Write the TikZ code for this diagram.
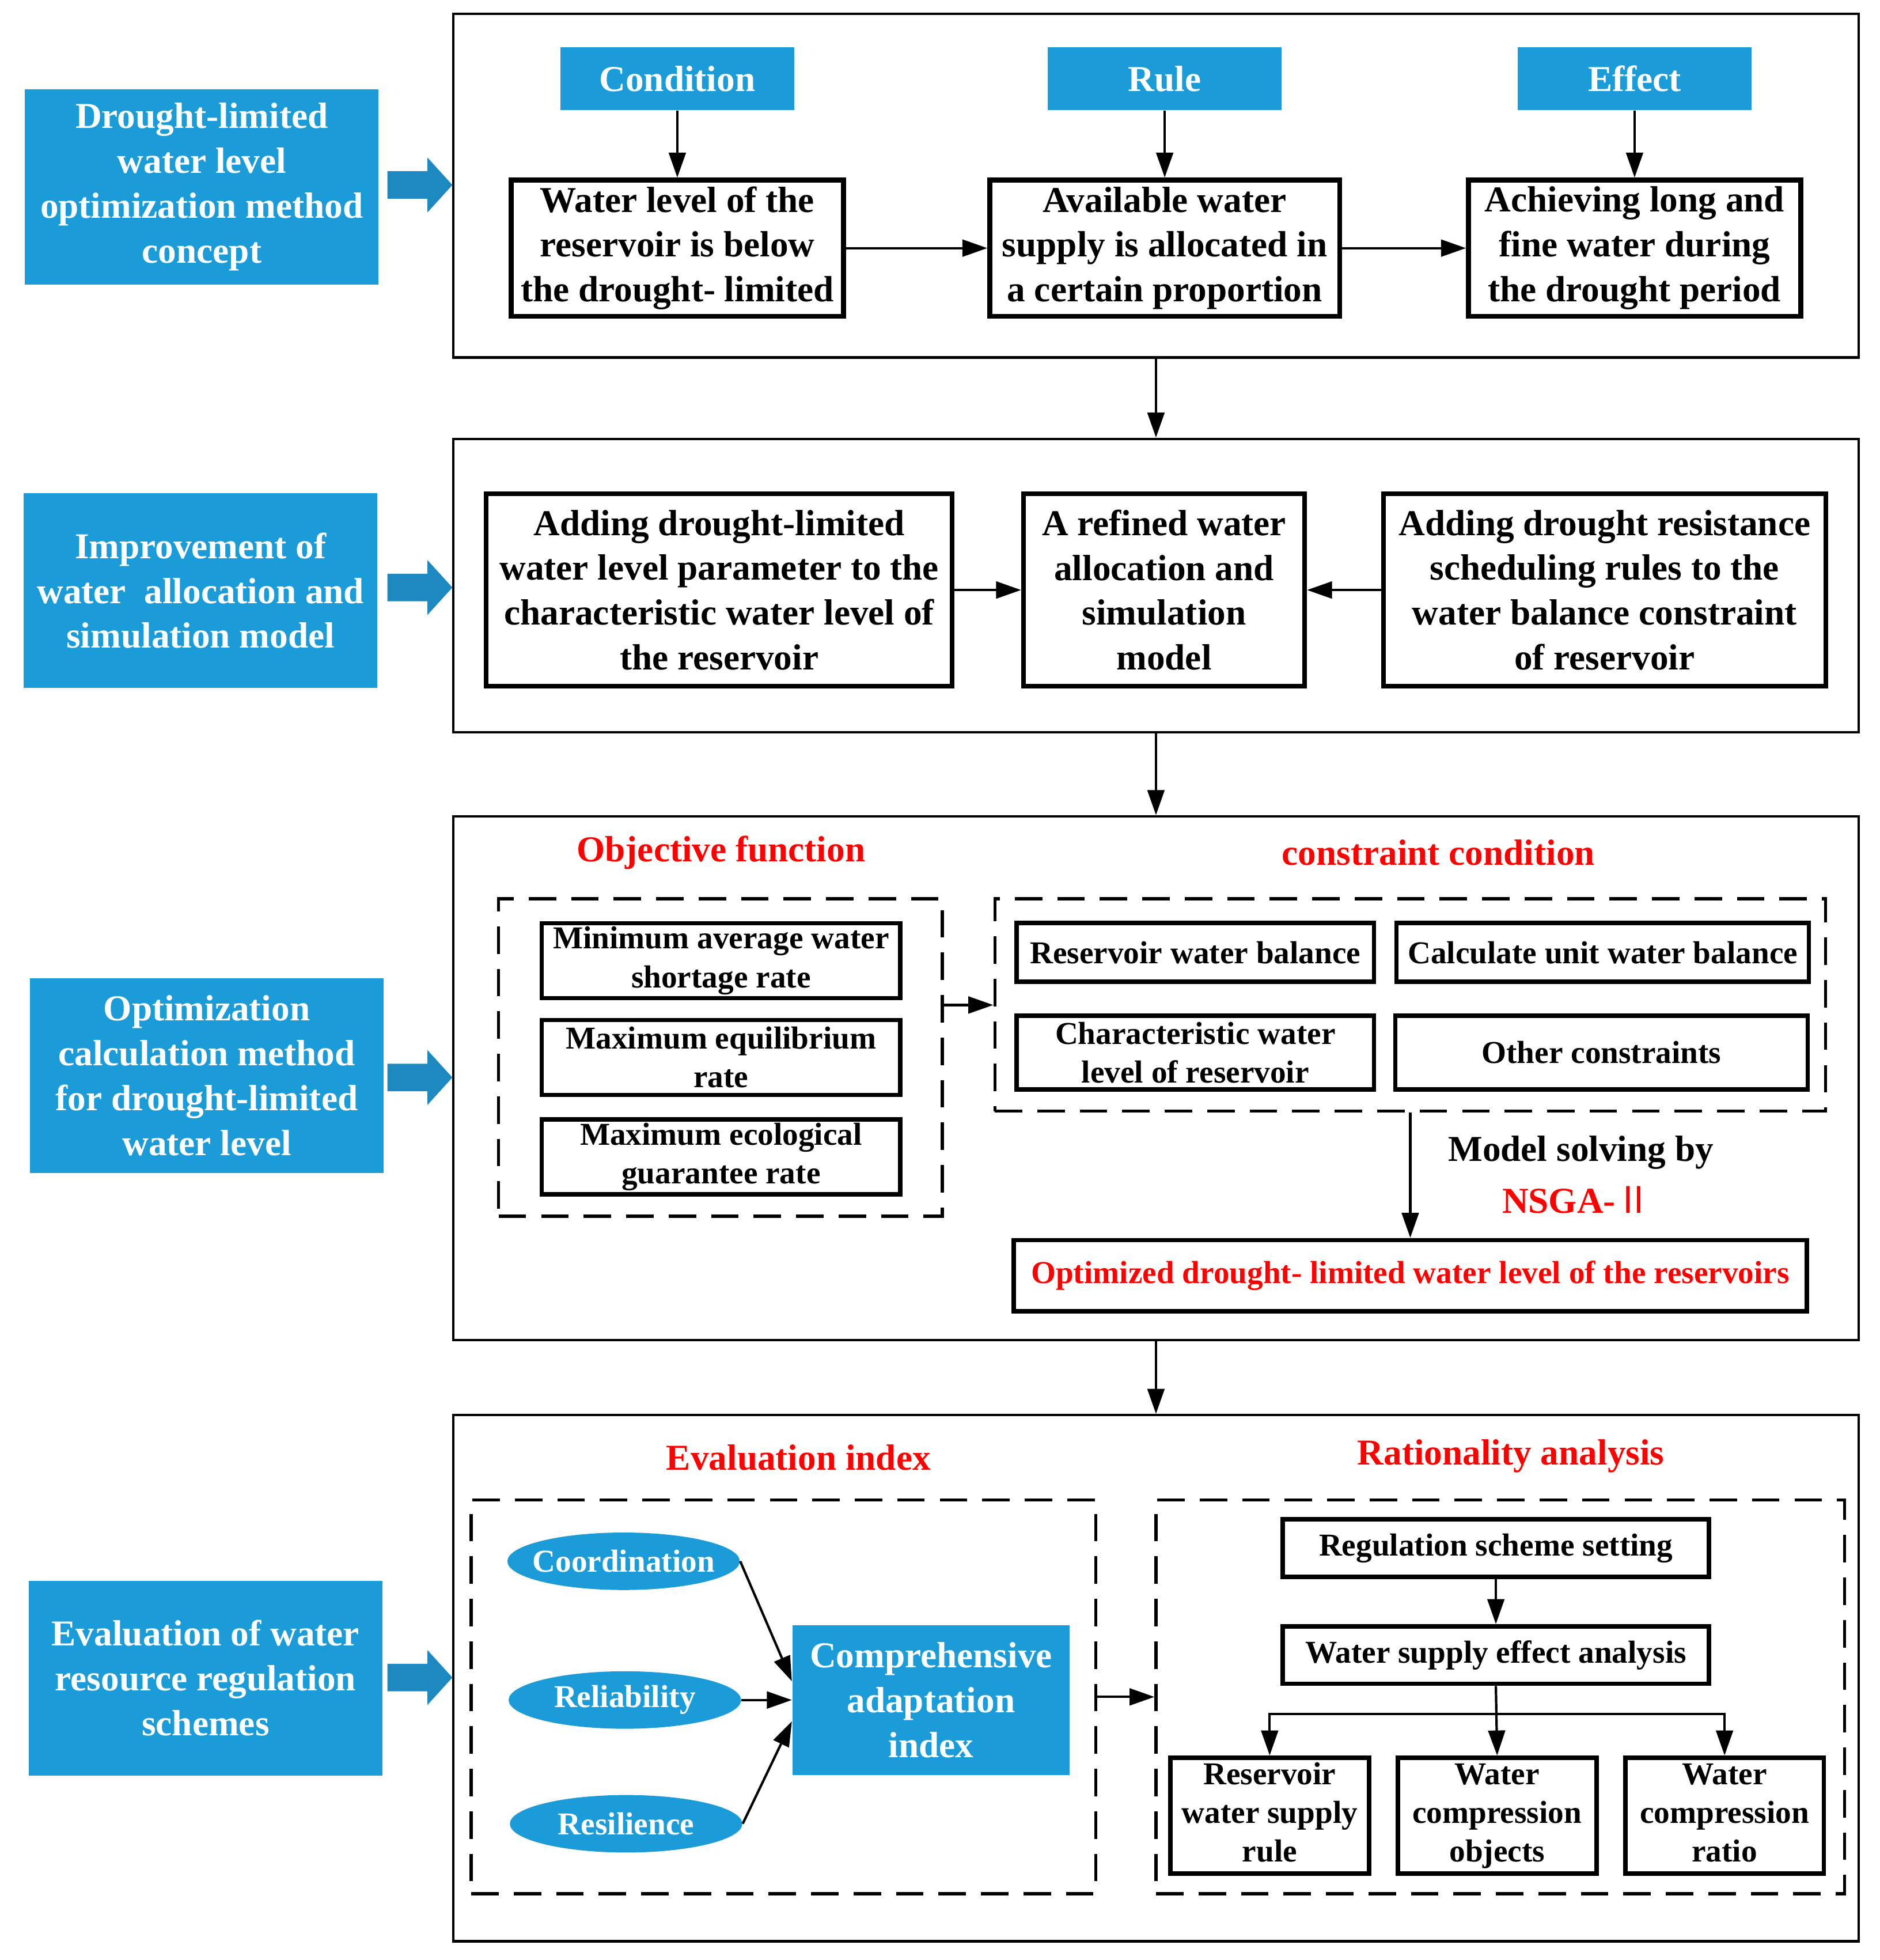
\documentclass[tikz,border=0pt]{standalone}
\usepackage{fontspec}
\setmainfont{Liberation Serif}
\newfontfamily\cjkfont{Noto Sans CJK SC}
\usetikzlibrary{shapes.geometric,arrows.meta}
\definecolor{boxblue}{RGB}{27,156,216}
\definecolor{arrowblue}{RGB}{30,136,192}

\begin{document}
\begin{tikzpicture}[x=0.02cm,y=-0.02cm,
    big/.style={font=\bfseries\fontsize{16.6}{20.4}\selectfont},
    small/.style={font=\bfseries\fontsize{14.5}{17.6}\selectfont},
    side/.style={big,fill=boxblue,text=white,align=center,minimum width=5.66cm,minimum height=3.12cm,inner sep=0pt},
    tag/.style={big,fill=boxblue,text=white,minimum width=3.74cm,minimum height=1cm,inner sep=0pt},
    frame/.style={draw,line width=1.1pt,minimum width=22.5cm,inner sep=0pt},
    boldbox/.style={big,draw,line width=2.2pt,align=center,inner sep=0pt},
    slimbox/.style={small,draw,line width=2pt,align=center,inner sep=0pt},
    dashbox/.style={draw,line width=1.4pt,dash pattern=on 0.44cm off 0.24cm,inner sep=0pt},
    title/.style={big,text=red},
    oval/.style={small,ellipse,fill=boxblue,text=white,minimum width=3.72cm,minimum height=0.92cm,inner xsep=-0.16cm,inner ysep=0pt},
    arr/.style={-{Triangle[length=0.4cm,width=0.27cm]},line width=1.1pt}]
    \useasboundingbox (0,0) rectangle (1504,1568);

    \node[side] (s1) at (161.5,149.5) {Drought-limited\\water level\\optimization method\\concept};
    \node[side] (s2) at (160.5,472.5) {Improvement of\\water~ allocation and\\simulation model};
    \node[side] (s3) at (165.5,860.5) {Optimization\\calculation method\\for drought-limited\\water level};
    \node[side] (s4) at (164.5,1342.5) {Evaluation of water\\resource regulation\\schemes};
    \foreach \y in {148,470,862,1342}
        \fill[arrowblue] (310,\y-11) -- (342,\y-11) -- (342,\y-22) -- (362,\y) -- (342,\y+22) -- (342,\y+11) -- (310,\y+11) -- cycle;

    \node[frame,minimum height=5.5cm] (f1) at (925,148.5) {};
    \node[frame,minimum height=4.7cm] (f2) at (925,468.5) {};
    \node[frame,minimum height=8.38cm] (f3) at (925,862.5) {};
    \node[frame,minimum height=8.42cm] (f4) at (925,1342.5) {};
    \draw[arr] (f1.south) -- (f2.north);
    \draw[arr] (f2.south) -- (f3.north);
    \draw[arr] (f3.south) -- (f4.north);

    \node[tag] (cond) at (542,63) {Condition};
    \node[tag] (rule) at (932,63) {Rule};
    \node[tag] (eff) at (1308,63) {Effect};
    \node[boldbox,minimum width=5.32cm,minimum height=2.18cm] (wl) at (542,198.5) {Water level of the\\reservoir is below\\the drought- limited};
    \node[boldbox,minimum width=5.6cm,minimum height=2.18cm] (av) at (932,198.5) {Available water\\supply is allocated in\\a certain proportion};
    \node[boldbox,minimum width=5.32cm,minimum height=2.18cm] (ach) at (1308,198.5) {Achieving long and\\fine water during\\the drought period};
    \draw[arr] (cond) -- (wl);
    \draw[arr] (rule) -- (av);
    \draw[arr] (eff) -- (ach);
    \draw[arr] (wl) -- (av);
    \draw[arr] (av) -- (ach);

    \node[boldbox,minimum width=7.46cm,minimum height=3.08cm] (ad1) at (575.5,472) {Adding drought-limited\\water level parameter to the\\characteristic water level of\\the reservoir};
    \node[boldbox,minimum width=4.5cm,minimum height=3.08cm] (ref) at (931.5,472) {A refined water\\allocation and\\simulation\\model};
    \node[boldbox,minimum width=7.08cm,minimum height=3.08cm] (ad2) at (1284,472) {Adding drought resistance\\scheduling rules to the\\water balance constraint\\of reservoir};
    \draw[arr] (ad1) -- (ref);
    \draw[arr] (ad2) -- (ref);

    \node[title] (obj) at (577,682) {Objective function};
    \node[title] (con) at (1151,682) {constraint condition};
    \node[dashbox,minimum width=7.1cm,minimum height=5.08cm] (dl) at (576.5,846) {};
    \node[dashbox,minimum width=13.3cm,minimum height=3.4cm] (dr) at (1128.5,804) {};
    \node[slimbox,minimum width=5.74cm,minimum height=1.2cm] (o1) at (577,768.5) {Minimum average water\\shortage rate};
    \node[slimbox,minimum width=5.74cm,minimum height=1.2cm] (o2) at (577,846) {Maximum equilibrium\\rate};
    \node[slimbox,minimum width=5.74cm,minimum height=1.2cm] (o3) at (577,925.5) {Maximum ecological\\guarantee rate};
    \node[slimbox,minimum width=5.72cm,minimum height=0.94cm] (c1) at (956.5,762) {Reservoir water balance};
    \node[slimbox,minimum width=6.6cm,minimum height=0.94cm] (c2) at (1282.5,762) {Calculate unit water balance};
    \node[slimbox,minimum width=5.72cm,minimum height=1.18cm] (c3) at (956.5,842) {Characteristic water\\level of reservoir};
    \node[slimbox,minimum width=6.6cm,minimum height=1.18cm] (c4) at (1281.5,842) {Other constraints};
    \draw[arr] (dl.east |- dr.west) -- (dr.west);
    \node[slimbox,text=red,minimum width=12.7cm,minimum height=1.14cm] (opt) at (1128.5,1020.5) {Optimized drought- limited water level of the reservoirs};
    \draw[arr] (dr.south) -- (opt.north);
    \node[big] (ms) at (1265,922) {Model solving by};
    \node[big,text=red] (ns) at (1262,960) {NSGA-{\cjkfont\mdseries Ⅱ}};

    \node[title] (ev) at (639,1166) {Evaluation index};
    \node[title] (ra) at (1209,1165) {Rationality analysis};
    \node[dashbox,minimum width=10cm,minimum height=6.3cm] (ld) at (627,1357.5) {};
    \node[dashbox,minimum width=11.02cm,minimum height=6.3cm] (rd) at (1200.5,1357.5) {};
    \node[oval] (co) at (499,1249) {Coordination};
    \node[oval] (re) at (500,1360) {Reliability};
    \node[oval] (rs) at (501,1459) {Resilience};
    \node[big,fill=boxblue,text=white,align=center,minimum width=4.44cm,minimum height=2.4cm,inner sep=0pt] (cai) at (745,1360) {Comprehensive\\adaptation\\index};
    \draw[arr] (co.east) -- ([yshift=0.3cm]cai.west);
    \draw[arr] (re.east) -- (cai.west);
    \draw[arr] (rs.east) -- ([yshift=-0.34cm]cai.west);
    \draw[arr] (ld.east |- rd.west) -- (rd.west);
    \node[slimbox,minimum width=6.82cm,minimum height=0.92cm] (rss) at (1197,1238.5) {Regulation scheme setting};
    \node[slimbox,minimum width=6.82cm,minimum height=0.92cm] (wse) at (1197,1324) {Water supply effect analysis};
    \node[slimbox,minimum width=3.18cm,minimum height=1.84cm] (b1) at (1016,1452.5) {\strut Reservoir\\water supply\\rule\strut};
    \node[slimbox,minimum width=3.18cm,minimum height=1.84cm] (b2) at (1198,1452.5) {\strut Water\\compression\\objects\strut};
    \node[slimbox,minimum width=3.18cm,minimum height=1.84cm] (b3) at (1380,1452.5) {\strut Water\\compression\\ratio\strut};
    \coordinate (br) at (1197,1371);
    \draw[arr] (rss) -- (wse);
    \draw[arr] (wse.south) -- (b2.north);
    \draw[arr] (br) -| (b1.north);
    \draw[arr] (br) -| (b3.north);
\end{tikzpicture}
\end{document}
